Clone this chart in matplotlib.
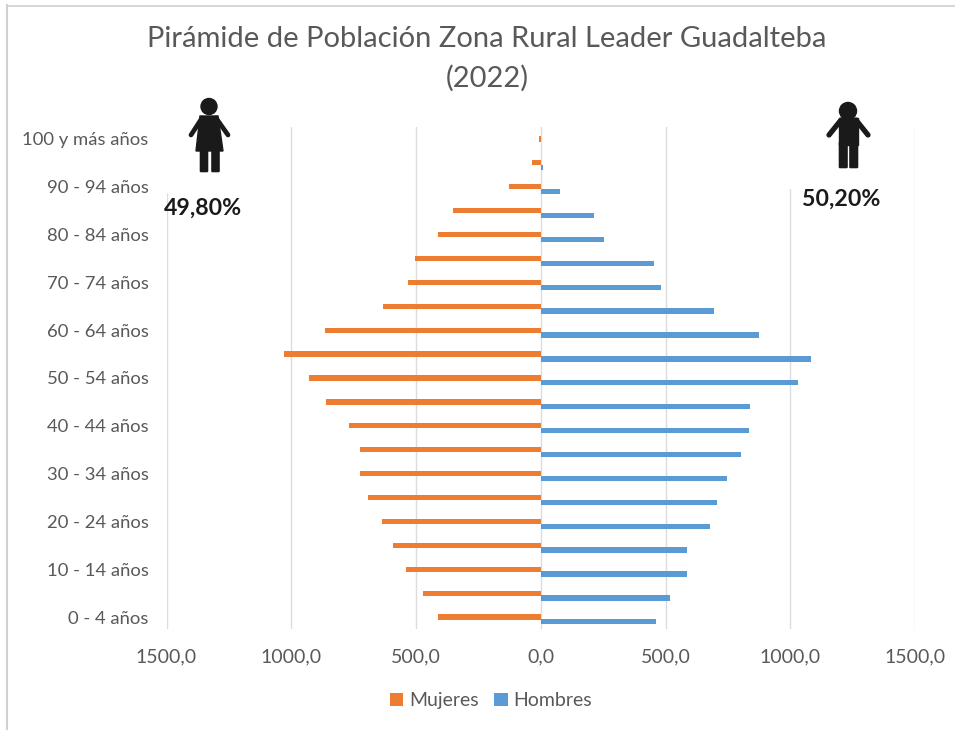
import matplotlib
matplotlib.use('Agg')
import matplotlib.pyplot as plt
from matplotlib.patches import Circle, Polygon, Rectangle, FancyBboxPatch

plt.rcParams['font.family'] = ['Lato', 'DejaVu Sans']

W, H = 955, 731

ages = ['0 - 4 años', '5 - 9 años', '10 - 14 años', '15 - 19 años', '20 - 24 años',
        '25 - 29 años', '30 - 34 años', '35 - 39 años', '40 - 44 años', '45 - 49 años',
        '50 - 54 años', '55 - 59 años', '60 - 64 años', '65 - 69 años', '70 - 74 años',
        '75 - 79 años', '80 - 84 años', '85 - 89 años', '90 - 94 años', '95 - 99 años',
        '100 y más años']
mujeres = [410, 470, 540, 594, 638, 694, 726, 726, 770, 862, 930, 1030, 866, 634, 534,
           505, 413, 353, 128, 36, 8]
hombres = [461, 517, 586, 586, 678, 706, 746, 802, 834, 838, 1031, 1083, 874, 694, 480,
           453, 253, 213, 76, 8, 1]
xticks = [-1500, -1000, -500, 0, 500, 1000, 1500]
xlabels = ['1500,0', '1000,0', '500,0', '0,0', '500,0', '1000,0', '1500,0']

gray = '#595959'
orange = '#ed7d31'
blue = '#5b9bd5'

fig = plt.figure(figsize=(W / 100, H / 100), dpi=100)

ax = fig.add_axes([166.5 / W, 1 - 629 / H, (915 - 166.5) / W, (629 - 127) / H])
y = list(range(len(ages)))
ax.barh([i + 0.0 for i in y], [-v for v in mujeres], height=0.22, color=orange, label='Mujeres', zorder=3)
ax.barh([i - 0.2 for i in y], hombres, height=0.22, color=blue, label='Hombres', zorder=3)
ax.set_xlim(-1500, 1500)
ax.set_ylim(-0.5, 20.5)
ax.set_xticks(xticks)
ax.set_xticklabels(xlabels, fontsize=14, color=gray)
ax.set_yticks(y[::2])
ax.set_yticklabels(ages[::2], fontsize=13.3, color=gray)
ax.tick_params(length=0)
ax.tick_params(axis='x', pad=14)
ax.tick_params(axis='y', pad=13)
ax.grid(axis='x', color='#dcdcdc', lw=1, zorder=0)
ax.set_axisbelow(True)
for s in ax.spines.values():
    s.set_visible(False)

ax.legend(loc='lower center', bbox_to_anchor=(491 / W, 1 - 719 / H), bbox_transform=fig.transFigure,
          ncol=2, frameon=False, fontsize=14, labelcolor=gray, handlelength=0.7, handleheight=0.7,
          handletextpad=0.3, columnspacing=0.8, borderpad=0)

fig.text(487 / W, 1 - 39 / H, 'Pirámide de Población Zona Rural Leader Guadalteba',
         fontsize=21, color=gray, ha='center', va='center')
fig.text(487 / W, 1 - 78 / H, '(2022)', fontsize=21, color=gray, ha='center', va='center')

# overlay in pixel coords for frame and the pasted icons
ov = fig.add_axes([0, 0, 1, 1], zorder=5)
ov.set_xlim(0, W)
ov.set_ylim(H, 0)
ov.axis('off')
ov.patch.set_alpha(0)

ov.plot([6.5, 6.5], [5, 729], color='#d0d0d0', lw=1.5)
ov.plot([6.5, 955], [5.5, 5.5], color='#d0d0d0', lw=1.2)

# white backgrounds of the pasted images hide the grid
ov.add_patch(Rectangle((149, 80), 120, 112, color='white', zorder=1))
ov.add_patch(Rectangle((785, 80), 115, 108, color='white', zorder=1))

icon = '#1a1a1a'
# woman
ov.add_patch(Circle((209, 106.5), 8, color=icon, zorder=2))
ov.add_patch(Polygon([(200, 116), (218, 116), (223, 151), (196, 151)], closed=True, color=icon, zorder=2))
ov.plot([202, 191], [118, 135], color=icon, lw=3.4, solid_capstyle='round', zorder=2)
ov.plot([216, 228], [118, 135], color=icon, lw=3.4, solid_capstyle='round', zorder=2)
ov.add_patch(FancyBboxPatch((201, 150), 6, 21, boxstyle='round,pad=0.6', color=icon, zorder=2))
ov.add_patch(FancyBboxPatch((212.5, 150), 6, 21, boxstyle='round,pad=0.6', color=icon, zorder=2))
# man
ov.add_patch(Circle((848, 111), 8.5, color=icon, zorder=2))
ov.add_patch(Polygon([(839, 118), (858, 118), (858, 145), (839, 145)], closed=True, color=icon, zorder=2))
ov.plot([841, 829], [120, 135], color=icon, lw=3.8, solid_capstyle='round', zorder=2)
ov.plot([856, 868], [120, 135], color=icon, lw=3.8, solid_capstyle='round', zorder=2)
ov.add_patch(FancyBboxPatch((840, 143), 6.5, 24, boxstyle='round,pad=0.6', color=icon, zorder=2))
ov.add_patch(FancyBboxPatch((850.5, 143), 6.5, 24, boxstyle='round,pad=0.6', color=icon, zorder=2))

ov.text(203, 208, '49,80%', fontsize=16.7, fontweight='bold', color='#1a1a1a', ha='center', va='center', zorder=3)
ov.text(841, 199, '50,20%', fontsize=16.7, fontweight='bold', color='#1a1a1a', ha='center', va='center', zorder=3)

fig.savefig('out.png', dpi=100)
